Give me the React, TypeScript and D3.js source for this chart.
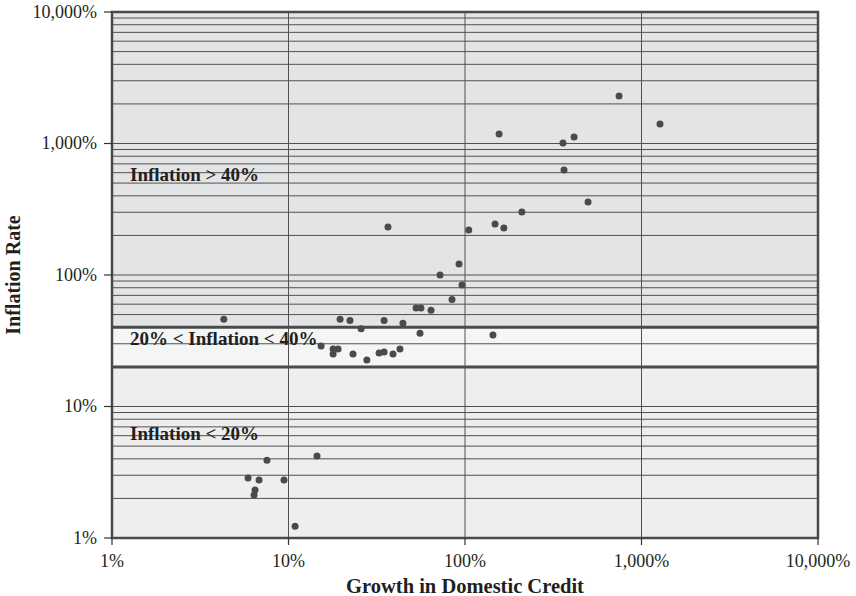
import * as d3 from "d3";

// growth in domestic credit (%) and inflation rate (%), one entry per country
const creditGrowth = [
  4.3, 19.6, 22.3, 25.8, 34.8, 44.5, 36.6, 52.8, 56.3, 64.2, 55.6, 72.2, 84.4, 92.5, 96.2,
  105, 144, 148, 156, 166, 210, 359, 364, 415, 498, 746, 1273,
  15.3, 17.9, 19.1, 17.9, 23.2, 27.8, 32.6, 34.8, 39.1, 42.8,
  7.55, 5.9, 6.81, 6.46, 6.38, 9.43, 14.5, 10.9,
];
const inflationRate = [
  46, 46, 45, 39, 45, 43, 232, 56, 56, 54, 36, 100, 65, 121, 84,
  220, 35, 244, 1181, 228, 301, 1009, 629, 1121, 359, 2297, 1407,
  28.8, 27.4, 27.4, 25.1, 25.1, 22.6, 25.5, 26.0, 25.1, 27.4,
  3.9, 2.86, 2.76, 2.32, 2.12, 2.76, 4.2, 1.23,
];

const decadeTicks = [1, 10, 100, 1000, 10000];
const bandEdges = [1, 20, 40, 10000];
const bandFills = ["#eeeeee", "#f4f5f5", "#e3e4e6"];
const bandLabels = ["Inflation < 20%", "20% < Inflation < 40%", "Inflation > 40%"];
const bandLabelValues = [5.6, 29.5, 520];

const width = 856;
const height = 596;
const margin = { top: 12, right: 38, bottom: 58, left: 112 };

export default function App() {
  const x = d3.scaleLog().domain([1, 10000]).range([margin.left, width - margin.right]);
  const y = d3.scaleLog().domain([1, 10000]).range([height - margin.bottom, margin.top]);
  const fmt = (v: number) => d3.format(",")(v) + "%";

  // minor grid values: 1..9 x 10^k
  const minor: number[] = [];
  for (let k = 0; k < 4; k++) {
    for (let m = 1; m < 10; m++) minor.push(m * Math.pow(10, k));
  }
  minor.push(10000);

  const x0 = x(1), x1 = x(10000), y0 = y(1), y1 = y(10000);
  const font = "'Liberation Serif', 'Times New Roman', serif";

  return (
    <svg width={width} height={height} style={{ position: "absolute", left: 0, top: 0, display: "block" }}
      fontFamily={font}>
      <rect width={width} height={height} fill="#ffffff" />
      {bandFills.map((f, i) => (
        <rect key={"b" + i} x={x0} y={y(bandEdges[i + 1])} width={x1 - x0}
          height={y(bandEdges[i]) - y(bandEdges[i + 1])} fill={f} />
      ))}
      {minor.map((v, i) => (
        <line key={"h" + i} x1={x0} x2={x1} y1={y(v)} y2={y(v)} stroke="#505050" strokeWidth={1} />
      ))}
      {decadeTicks.map((v, i) => (
        <line key={"v" + i} x1={x(v)} x2={x(v)} y1={y0} y2={y1} stroke="#505050" strokeWidth={1} />
      ))}
      {[20, 40].map((v) => (
        <line key={"e" + v} x1={x0} x2={x1} y1={y(v)} y2={y(v)} stroke="#4a4a4a" strokeWidth={3} />
      ))}
      <rect x={x0} y={y1} width={x1 - x0} height={y0 - y1} fill="none" stroke="#4a4a4a" strokeWidth={2.5} />

      {decadeTicks.map((v, i) => (
        <g key={"yt" + i}>
          <line x1={x0 - 8} x2={x0} y1={y(v)} y2={y(v)} stroke="#333" strokeWidth={1.2} />
          <text x={x0 - 15} y={y(v)} dy="0.33em" textAnchor="end" fontSize={18} fill="#231f20">{fmt(v)}</text>
        </g>
      ))}
      {decadeTicks.map((v, i) => (
        <g key={"xt" + i}>
          <line x1={x(v)} x2={x(v)} y1={y0} y2={y0 + 7} stroke="#333" strokeWidth={1.2} />
          <text x={x(v)} y={567} textAnchor="middle" fontSize={18} fill="#231f20">{fmt(v)}</text>
        </g>
      ))}

      {bandLabels.map((t, i) => (
        <text key={"l" + i} x={130} y={y(bandLabelValues[i])} fontSize={19} fontWeight="bold" fill="#231f20">{t}</text>
      ))}

      {creditGrowth.map((c, i) => (
        <circle key={"p" + i} cx={x(c)} cy={y(inflationRate[i])} r={3.5} fill="#4a4a4c" />
      ))}

      <text x={465} y={593} textAnchor="middle" fontSize={20.5} fontWeight="bold" fill="#231f20">Growth in Domestic Credit</text>
      <text transform={`translate(20,${y(100)}) rotate(-90)`} textAnchor="middle" fontSize={20} fontWeight="bold" fill="#231f20">Inflation Rate</text>
    </svg>
  );
}
